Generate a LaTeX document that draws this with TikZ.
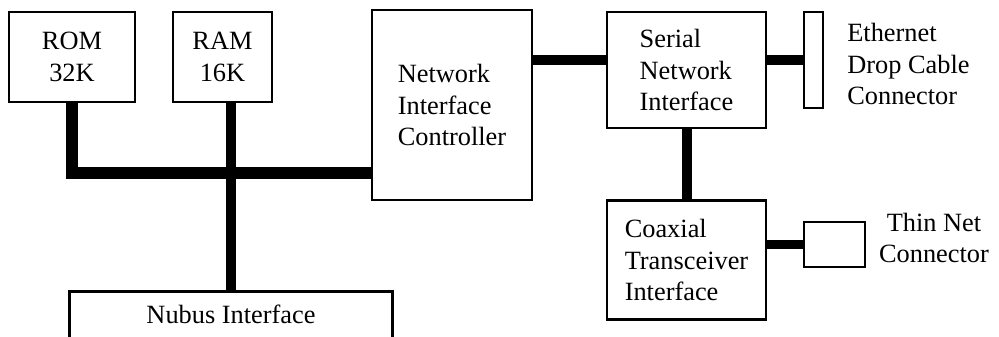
\documentclass[tikz,border=0pt]{standalone}
\usepackage{fontspec}
\setmainfont{Liberation Serif}
\begin{document}
\begin{tikzpicture}[
        x=0.02cm, y=-0.02cm,
        font=\fontsize{15}{18}\selectfont,
        module/.style={draw, line width=0.05cm, inner sep=0pt, align=center},
        modleft/.style={module, align=left},
        bus/.style={line width=0.24cm},
        link/.style={line width=0.2cm}
      ]
      \useasboundingbox (0,0) rectangle (999,337);
      \node[module, minimum width=2.52cm, minimum height=1.8cm] (rom) at (72,57) {ROM\\32K};
      \node[module, minimum width=1.98cm, minimum height=1.8cm] (ram) at (222.5,57) {RAM\\16K};
      \node[modleft, minimum width=3.2cm, minimum height=3.8cm] (nic) at (452,105) {Network\\Interface\\Controller};
      \node[modleft, minimum width=3.18cm, minimum height=2.32cm] (serial) at (686.5,70) {Serial\\Network\\Interface};
      \node[modleft, minimum width=3.18cm, minimum height=2.38cm] (coax) at (686.5,260) {Coaxial\\Transceiver\\Interface};
      \node[module, minimum width=0.38cm, minimum height=1.92cm] (eth) at (813.5,60) {};
      \node[module, minimum width=1.22cm, minimum height=0.9cm] (thin) at (834.5,244.5) {};
      \node[inner sep=0pt, minimum width=6.44cm, minimum height=0.9cm] (nubus) at (231,314.5) {Nubus Interface};
      \draw[line width=0.05cm] (nubus.south west) -- (nubus.north west) -- (nubus.north east) -- (nubus.south east);
      \node[anchor=west, align=left, inner sep=0pt] (ethlabel) at (847,64) {Ethernet\\Drop Cable\\Connector};
      \node[align=center, inner sep=0pt] (thinlabel) at (934,238) {Thin Net\\Connector};
      \coordinate (bus) at (232,173);
      \draw[bus] (rom.south) |- (bus) -- (bus -| nic.west);
      \draw[link] (nubus.north |- ram.south) -- (nubus.north);
      \draw[link] (nic.east |- eth.west) -- (serial.west |- eth.west);
      \draw[link] (serial.east |- eth.west) -- (eth.west);
      \draw[link] (serial.south) -- (coax.north);
      \draw[link] (coax.east |- thin.west) -- (thin.west);
\end{tikzpicture}
\end{document}
